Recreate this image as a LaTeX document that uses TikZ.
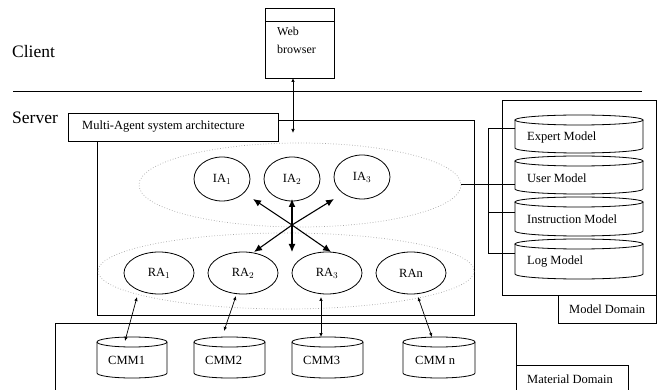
\documentclass[tikz,border=0pt]{standalone}
\usepackage{fontspec}
\setmainfont{Liberation Serif}
\usetikzlibrary{arrows.meta,shapes.geometric}
\tikzset{
  box/.style={draw=black,line width=0.9pt},
  lbl/.style={font=\fontsize{12.5}{13}\selectfont,inner sep=0pt},
  agent/.style={draw=black,line width=0.8pt,ellipse,minimum width=56pt,minimum height=44pt,inner sep=0pt,font=\fontsize{12.5}{13}\selectfont},
  ragent/.style={agent,minimum width=70pt,minimum height=42pt},
  group/.style={draw=gray!70,dotted,line width=0.7pt},
  bigarrow/.style={line width=1.1pt,{Latex[length=8pt,width=7pt]}-},
  smallarrow/.style={line width=0.7pt,{Latex[length=4pt,width=3.5pt]}-{Latex[length=4pt,width=3.5pt]}},
  cylline/.style={draw=black,line width=0.8pt},
  conn/.style={draw=black,line width=0.8pt},
  side/.style={font=\fontsize{17.5}{19}\selectfont,anchor=west,inner sep=0pt}
}
% name, cx, top, halfwidth, height, textx, text
\newcommand\mycyl[7]{%
  \path[cylline] (#2-#4,#3+5) -- (#2-#4,#3+#5-5) arc (180:0:#4 and 5) -- (#2+#4,#3+5);
  \path[cylline] (#2,#3+5) ellipse (#4 and 5);
  \node[lbl,anchor=west] (#1) at (#6,#3+#5/2+3) {#7};
}
\begin{document}
\begin{tikzpicture}[x=1pt,y=-1pt]
\useasboundingbox (0,0) rectangle (659,390);
\fill[white] (0,0) rectangle (659,390);

% client / server
\node[side] (client) at (12,52) {Client};
\node[side] (server) at (12,118) {Server};
\draw[line width=0.9pt] (13,91) -- (642,91);

% web browser
\node[box,minimum width=69pt,minimum height=70pt,anchor=north west,inner sep=0pt] (web) at (265,8) {};
\draw[line width=0.8pt] (265,21) -- (334,21);
\node[font=\fontsize{12}{18}\selectfont,align=left,anchor=north west,inner sep=0pt] (webt) at (277,27) {Web\\browser};

% main box
\draw[box] (97,120) rectangle (474,315);
\node[box,fill=white,minimum width=210pt,minimum height=28pt,anchor=north west,inner sep=0pt] (mas) at (68,113) {};
\node[lbl,anchor=west] (mast) at (82,127) {Multi-Agent system architecture};

\coordinate (wb) at (293,78);
\coordinate (mtop) at (293,133);
\draw[smallarrow] (wb) -- (mtop);

% groups
\draw[group] (300,185) ellipse (161 and 42);
\draw[group] (286,271) ellipse (188 and 38);

% agents
\node[agent] (ia1) at (222,179) {IA$_1$};
\node[agent] (ia2) at (292,179) {IA$_2$};
\node[agent] (ia3) at (362,177) {IA$_3$};
\node[ragent] (ra1) at (159,273) {RA$_1$};
\node[ragent] (ra2) at (243,273) {RA$_2$};
\node[ragent] (ra3) at (327,273) {RA$_3$};
\node[ragent] (ran) at (411,273) {RAn};

% central arrows
\coordinate (hub) at (292,225);
\coordinate (u1) at (253,199);
\coordinate (u2) at (292,199);
\coordinate (u3) at (334,199);
\coordinate (d1) at (254,252);
\coordinate (d2) at (292,252);
\coordinate (d3) at (331,252);
\foreach \e in {u1,u2,u3,d1,d2,d3} \draw[bigarrow] (\e) -- (hub);

% material domain
\draw[box] (55,395) -- (55,323) -- (516,323) -- (516,395);
\node[box,minimum width=112pt,minimum height=35pt,anchor=north west,inner sep=0pt] (matbox) at (516,365) {};
\node[lbl,anchor=west] (matt) at (527,379) {Material Domain};

\mycyl{cmm1}{132}{337}{35}{41}{108}{CMM1}
\mycyl{cmm2}{229.5}{337}{35.5}{41}{205}{CMM2}
\mycyl{cmm3}{327.5}{337}{35.5}{41}{303}{CMM3}
\mycyl{cmmn}{439}{337}{36}{41}{415}{CMM n}

\coordinate (r1) at (137,297); \coordinate (c1) at (125,341);
\coordinate (r2) at (236,296); \coordinate (c2) at (224,331);
\coordinate (r3) at (321,297); \coordinate (c3) at (321,337);
\coordinate (rn) at (418,297); \coordinate (cn) at (432,337);
\draw[smallarrow] (r1) -- (c1);
\draw[smallarrow] (r2) -- (c2);
\draw[smallarrow] (r3) -- (c3);
\draw[smallarrow] (rn) -- (cn);

% model domain
\draw[box] (502,100) rectangle (656,295);
\node[box,minimum width=98pt,minimum height=28pt,anchor=north west,inner sep=0pt] (modbox) at (558,295) {};
\node[lbl,anchor=west] (modt) at (569,309) {Model Domain};

\mycyl{expert}{579}{115}{64}{38}{527}{Expert Model}
\mycyl{user}{579}{156}{64}{38}{527}{User Model}
\mycyl{instr}{579}{197}{64}{39}{527}{Instruction Model}
\mycyl{logm}{579}{239}{64}{40}{527}{Log Model}

\coordinate (bt) at (488,128);
\coordinate (bu) at (488,184);
\coordinate (bi) at (488,212);
\coordinate (bl) at (488,253);
\coordinate (ge) at (515,128);
\coordinate (gu) at (515,184);
\coordinate (gi) at (515,212);
\coordinate (gl) at (515,253);
\coordinate (iaright) at (461,184);
\draw[conn] (ge) -- (bt) -- (bl) -- (gl);
\draw[conn] (iaright) -- (gu);
\draw[conn] (bi) -- (gi);
\end{tikzpicture}
\end{document}
